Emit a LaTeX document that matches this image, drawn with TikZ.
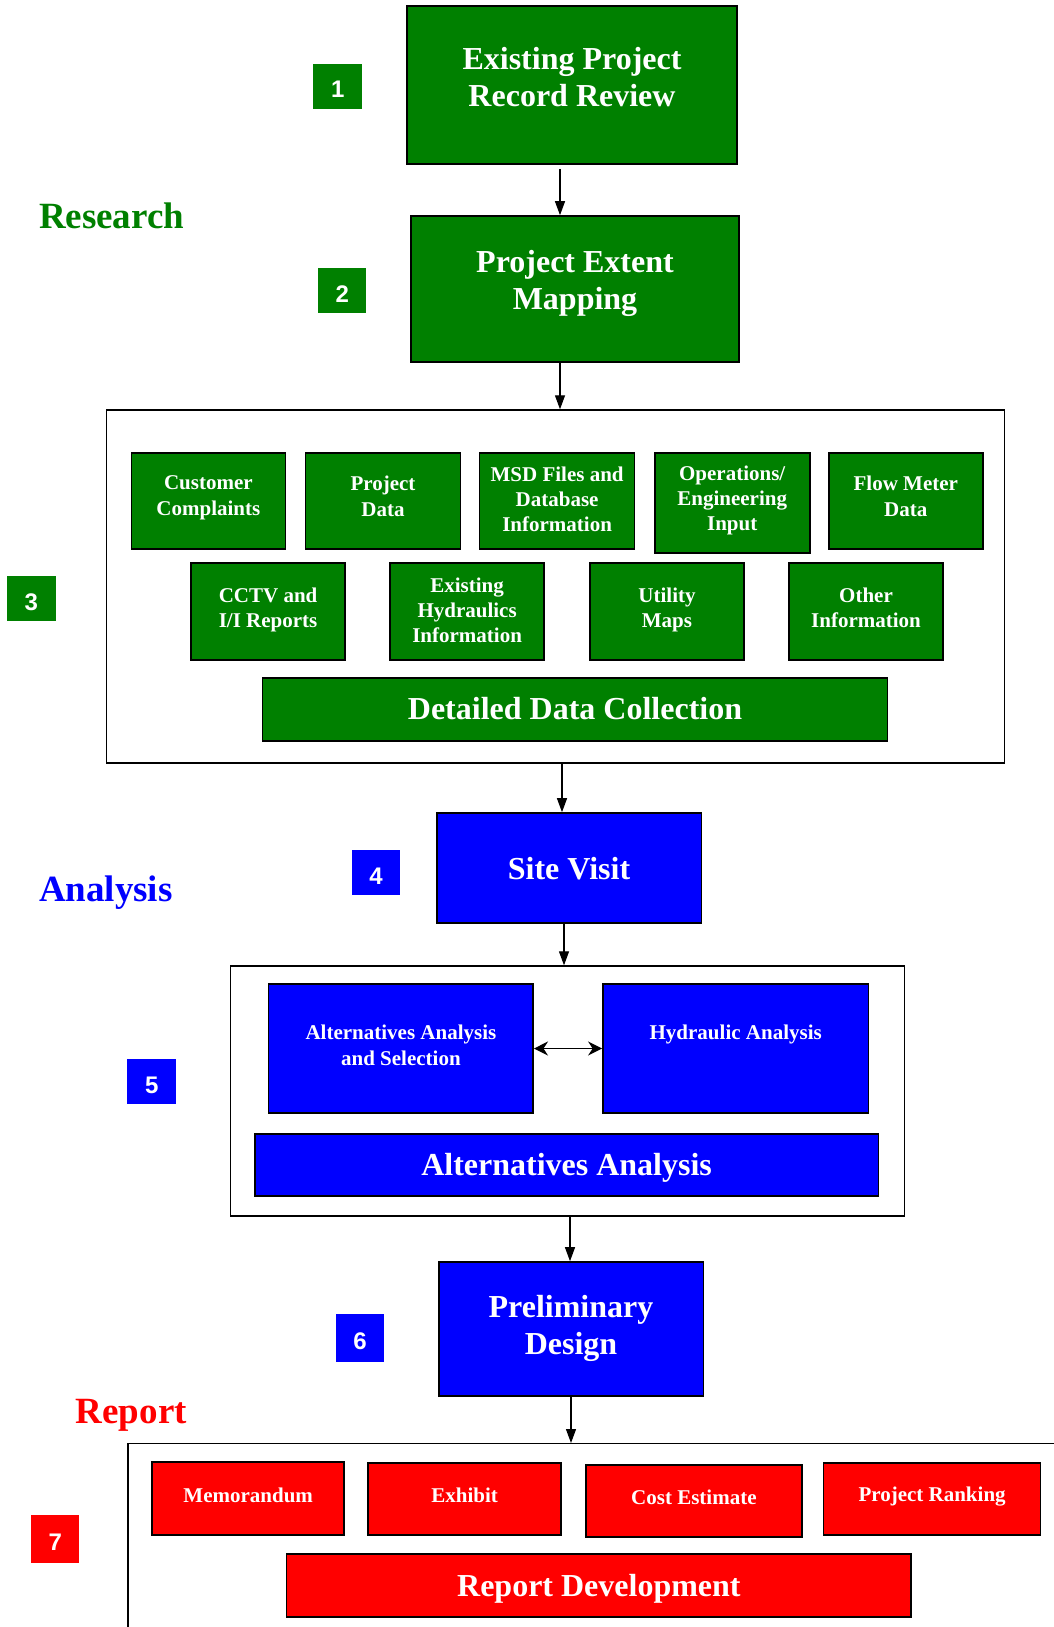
\documentclass[tikz,border=0pt]{standalone}
\usepackage{fontspec}
\setmainfont{Liberation Serif}
\newfontfamily\numfont{Liberation Sans}
\usetikzlibrary{arrows.meta}
\definecolor{dgreen}{RGB}{0,128,0}
\definecolor{dblue}{RGB}{0,0,255}
\definecolor{dred}{RGB}{255,0,0}
\begin{document}
\begin{tikzpicture}[x=1pt,y=-1pt,
  box/.style={draw=black, line width=1.6pt, inner sep=0pt},
  gbox/.style={box, fill=dgreen},
  bbox/.style={box, fill=dblue},
  rbox/.style={box, fill=dred},
  frame/.style={draw=black, line width=1.4pt, inner sep=0pt},
  txt/.style={text=white, align=center, inner sep=0pt, font=\bfseries\fontsize{21}{26}\selectfont},
  bigtxt/.style={text=white, align=center, inner sep=0pt, font=\bfseries\fontsize{32}{37}\selectfont},
  num/.style={inner sep=0pt, text=white, font=\numfont\bfseries\fontsize{24}{24}\selectfont, minimum width=48.5pt, minimum height=45pt, text height=23pt, text depth=0pt},
  sect/.style={anchor=base west, inner sep=0pt, font=\bfseries\fontsize{37}{37}\selectfont},
  arr/.style={line width=1.2pt, -{Triangle[length=14pt,width=10pt]}},
  darr/.style={line width=1.8pt, {Stealth[length=14pt,width=14pt]}-{Stealth[length=14pt,width=14pt]}}
]
\useasboundingbox[fill=white] (0,0) rectangle (1054,1627);

% section labels
\node[sect, text=dgreen] (research) at (38.8,228) {Research};
\node[sect, text=dblue] (analysis) at (38.8,901) {Analysis};
\node[sect, text=dred] (report) at (75.6,1423) {Report};

% number labels
\node[num, fill=dgreen] (n1) at (337.7,86.5) {1};
\node[num, fill=dgreen] (n2) at (342.2,290.5) {2};
\node[num, fill=dgreen] (n3) at (31.3,598.5) {3};
\node[num, fill=dblue] (n4) at (376,872.5) {4};
\node[num, fill=dblue] (n5) at (151.7,1081.5) {5};
\node[num, fill=dblue, minimum height=48pt] (n6) at (360.1,1338) {6};
\node[num, fill=dred, minimum height=48pt] (n7) at (55.2,1539) {7};

% step 1 and 2
\node[gbox, minimum width=330.3pt, minimum height=158pt] (b1) at (572,85) {};
\node[bigtxt] (b1t) at (572,77) {Existing Project\\Record Review};
\node[gbox, minimum width=328.3pt, minimum height=146pt] (b2) at (575,289) {};
\node[bigtxt] (b2t) at (575,283) {Project Extent\\Mapping};

% step 3
\node[frame, minimum width=898.3pt, minimum height=353pt] (f3) at (555.6,586.5) {};
\node[gbox, minimum width=154.2pt, minimum height=96pt] (cc) at (208.4,501) {};
\node[txt] (cct) at (208.4,498) {Customer\\Complaints};
\node[gbox, minimum width=155pt, minimum height=96pt] (pd) at (383,501) {};
\node[txt] (pdt) at (383,496.5) {Project\\Data};
\node[gbox, minimum width=155pt, minimum height=96pt] (msd) at (557.1,501) {};
\node[txt, font=\bfseries\fontsize{21}{25}\selectfont] (msdt) at (557.1,499) {MSD Files and\\Database\\Information};
\node[gbox, minimum width=155pt, minimum height=100pt] (ops) at (732.2,503) {};
\node[txt, font=\bfseries\fontsize{21}{25}\selectfont] (opst) at (732.2,500.5) {Operations/\\Engineering\\Input};
\node[gbox, minimum width=154.2pt, minimum height=96pt] (fm) at (905.8,501) {};
\node[txt] (fmt) at (905.8,496.5) {Flow Meter\\Data};

\node[gbox, minimum width=154.2pt, minimum height=97pt] (cctv) at (268.1,611.5) {};
\node[txt, font=\bfseries\fontsize{21}{25}\selectfont] (cctvt) at (268.1,609.5) {CCTV and\\I/I Reports};
\node[gbox, minimum width=154.2pt, minimum height=97pt] (ehi) at (467.1,611.5) {};
\node[txt, font=\bfseries\fontsize{21}{25}\selectfont] (ehit) at (467.1,610) {Existing\\Hydraulics\\Information};
\node[gbox, minimum width=154.2pt, minimum height=97pt] (um) at (667,611.5) {};
\node[txt, font=\bfseries\fontsize{21}{25}\selectfont] (umt) at (667,610) {Utility\\Maps};
\node[gbox, minimum width=154.2pt, minimum height=97pt] (oi) at (866,611.5) {};
\node[txt, font=\bfseries\fontsize{21}{25}\selectfont] (oit) at (866,608) {Other\\Information};

\node[gbox, minimum width=624.7pt, minimum height=63pt] (ddc) at (575,709.5) {};
\node[bigtxt] (ddct) at (575,708.5) {Detailed Data Collection};

% step 4
\node[bbox, minimum width=264.6pt, minimum height=110pt] (sv) at (569,868) {};
\node[bigtxt] (svt) at (569,868.5) {Site Visit};

% step 5
\node[frame, minimum width=673.5pt, minimum height=250pt] (f5) at (567.5,1091) {};
\node[bbox, minimum width=264.6pt, minimum height=129pt] (aas) at (400.9,1048.5) {};
\node[txt] (aast) at (400.9,1045) {Alternatives Analysis\\and Selection};
\node[bbox, minimum width=265.6pt, minimum height=129pt] (ha) at (735.7,1048.5) {};
\node[txt] (hat) at (735.7,1034) {Hydraulic Analysis};
\node[bbox, minimum width=623.8pt, minimum height=62pt] (aa) at (566.6,1165) {};
\node[bigtxt] (aat) at (566.6,1168) {Alternatives Analysis};

% step 6
\node[bbox, minimum width=264.6pt, minimum height=134pt] (pdz) at (571,1329) {};
\node[bigtxt] (pdzt) at (571,1328.5) {Preliminary\\Design};

% step 7
\node[frame, minimum width=960pt, minimum height=240pt, anchor=north west] (f7) at (127.3,1443) {};
\node[rbox, minimum width=192pt, minimum height=73pt] (memo) at (248.2,1498.5) {};
\node[txt] (memot) at (248.2,1495) {Memorandum};
\node[rbox, minimum width=193pt, minimum height=72pt] (exh) at (464.6,1499) {};
\node[txt] (exht) at (464.6,1495.5) {Exhibit};
\node[rbox, minimum width=215.9pt, minimum height=72pt] (ce) at (693.9,1501) {};
\node[txt] (cet) at (693.9,1497.5) {Cost Estimate};
\node[rbox, minimum width=216.9pt, minimum height=72pt] (pr) at (932.1,1499) {};
\node[txt] (prt) at (932.1,1497) {Project Ranking};
\node[rbox, minimum width=624.7pt, minimum height=63pt] (rd) at (598.9,1585.5) {};
\node[bigtxt] (rdt) at (598.9,1588.5) {Report Development};

% connectors
\draw[arr] ([xshift=-12pt,yshift=-4pt]b1.south) -- ([xshift=-15pt]b2.north);
\draw[arr] ([xshift=-15pt]b2.south) -- ([xshift=4.4pt]f3.north);
\draw[arr] ([xshift=6.4pt]f3.south) -- ([xshift=-7pt]sv.north);
\draw[arr] ([xshift=-5pt]sv.south) -- ([xshift=-3.5pt]f5.north);
\draw[arr] ([xshift=2.5pt]f5.south) -- ([xshift=-1pt]pdz.north);
\draw[arr] (pdz.south) -- (pdz.south |- f7.north);
\draw[darr] (aas.east) -- (ha.west);
\end{tikzpicture}
\end{document}
